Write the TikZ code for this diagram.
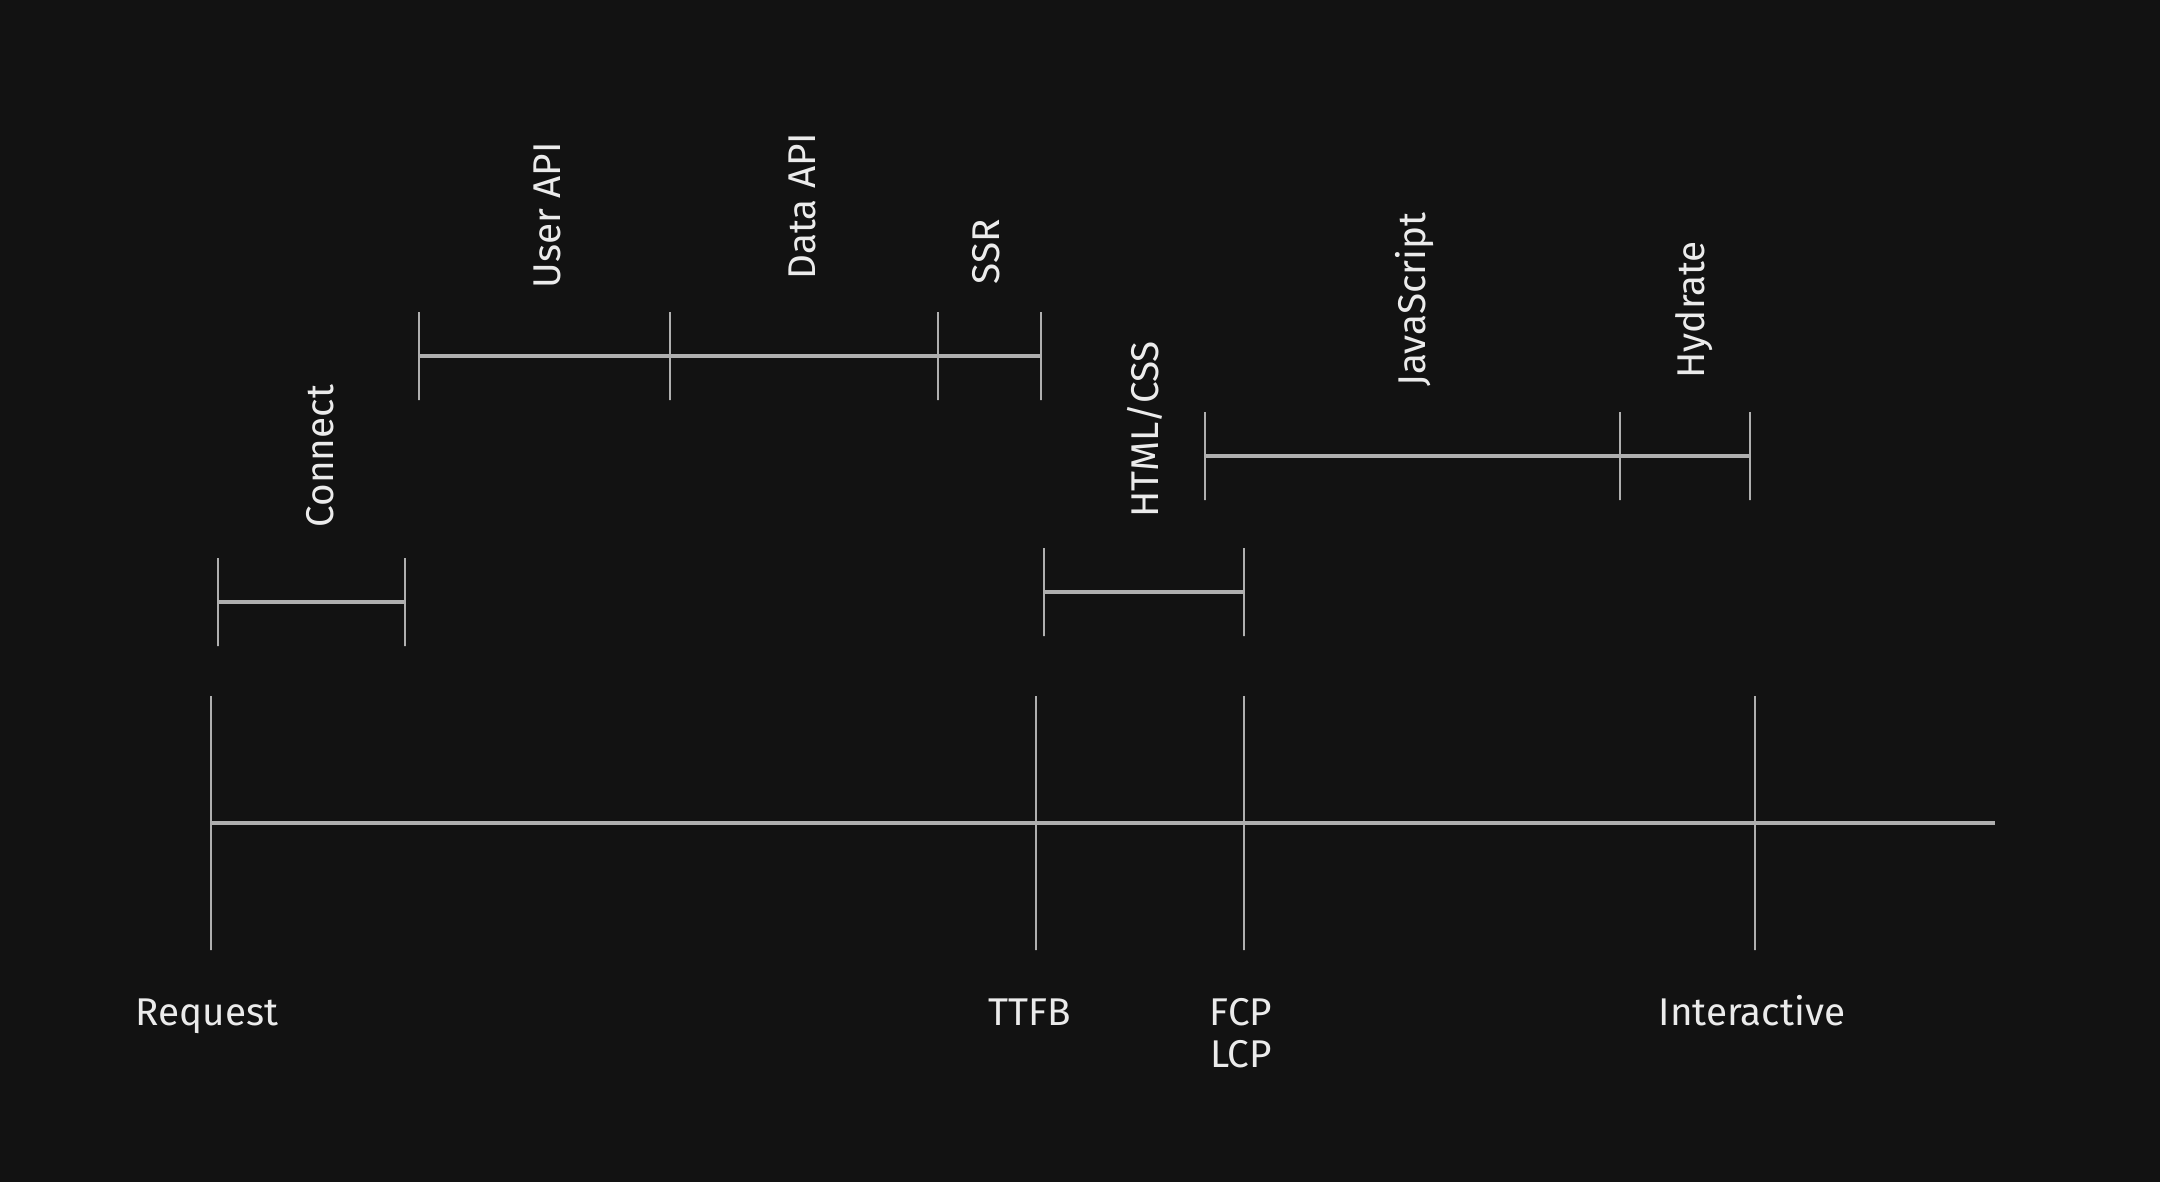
\documentclass[tikz,border=0pt]{standalone}
\usepackage{fontspec}
\setmainfont{Fira Sans}
\usetikzlibrary{positioning}
\definecolor{bgdark}{RGB}{18,18,18}
\definecolor{linegray}{RGB}{175,175,175}
\definecolor{txtwhite}{RGB}{235,235,235}

\begin{document}
\begin{tikzpicture}[
    tick/.style={rectangle, draw=linegray, line width=0.7pt, inner sep=0pt,
      minimum width=0pt, minimum height=#1},
    tick/.default=0.88cm,
    span/.style={linegray, line width=1pt},
    lbl/.style={text=txtwhite, font=\fontsize{11}{13}\selectfont, anchor=base},
    vlbl/.style={lbl, rotate=90, anchor=west, inner sep=0pt}
  ]
  \fill[bgdark] (0,0) rectangle (21.6,11.82);
  \useasboundingbox (0,0) rectangle (21.6,11.82);

  % main timeline
  \node[tick=2.54cm] (req) at (2.11,3.59) {};
  \node[tick=2.54cm] (ttfb) at (10.36,3.59) {};
  \node[tick=2.54cm] (fcp) at (12.44,3.59) {};
  \node[tick=2.54cm] (inter) at (17.55,3.59) {};
  \coordinate (tlend) at (19.95,3.59);
  \draw[span] (req) -- (tlend);

  \node[lbl] (reqlbl) at (2.07,1.57) {Request};
  \node[lbl] (ttfblbl) at (10.30,1.57) {TTFB};
  \node[lbl] (fcplbl) at (12.41,1.57) {FCP};
  \node[lbl] (lcplbl) at (12.41,1.15) {LCP};
  \node[lbl] (interlbl) at (17.52,1.57) {Interactive};

  % connect
  \node[tick] (con0) at (2.18,5.80) {};
  \node[tick] (con1) at (4.05,5.80) {};
  \draw[span] (con0) -- (con1);
  \node[vlbl] (conlbl) at (3.20,6.54) {Connect};

  % server side
  \node[tick] (srv0) at (4.19,8.26) {};
  \node[tick] (srv1) at (6.70,8.26) {};
  \node[tick] (srv2) at (9.38,8.26) {};
  \node[tick] (srv3) at (10.41,8.26) {};
  \draw[span] (srv0) -- (srv1);
  \draw[span] (srv1) -- (srv2);
  \draw[span] (srv2) -- (srv3);
  \node[vlbl] (userlbl) at (5.47,8.93) {User API};
  \node[vlbl] (datalbl) at (8.02,9.02) {Data API};
  \node[vlbl] (ssrlbl) at (9.86,8.97) {SSR};

  % html/css
  \node[tick] (doc0) at (10.44,5.90) {};
  \node[tick] (doc1) at (12.44,5.90) {};
  \draw[span] (doc0) -- (doc1);
  \node[vlbl] (doclbl) at (11.45,6.64) {HTML/CSS};

  % client side
  \node[tick] (cli0) at (12.05,7.26) {};
  \node[tick] (cli1) at (16.20,7.26) {};
  \node[tick] (cli2) at (17.50,7.26) {};
  \draw[span] (cli0) -- (cli1);
  \draw[span] (cli1) -- (cli2);
  \node[vlbl] (jslbl) at (14.15,7.95) {JavaScript};
  \node[vlbl] (hydlbl) at (16.94,8.03) {Hydrate};
\end{tikzpicture}
\end{document}
